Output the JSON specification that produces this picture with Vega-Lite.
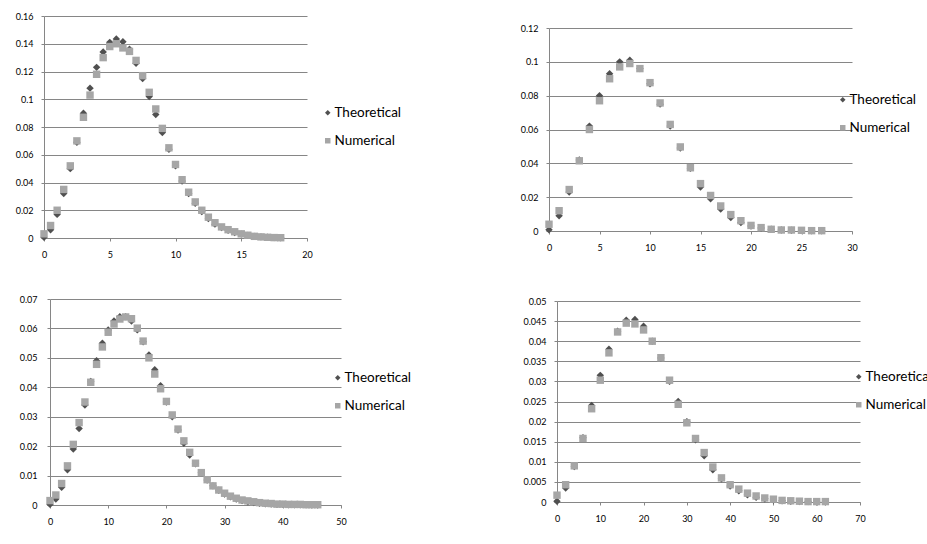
{
  "$schema": "https://vega.github.io/schema/vega-lite/v6.json",
  "background": "white",
  "padding": {"left": 15, "top": 12, "right": 0, "bottom": 0},
  "datasets": {
    "p1": [
      {"x":0,"Theoretical":0.0005,"Numerical":0.003},{"x":0.5,"Theoretical":0.006,"Numerical":0.009},{"x":1,"Theoretical":0.017,"Numerical":0.020},{"x":1.5,"Theoretical":0.032,"Numerical":0.035},{"x":2,"Theoretical":0.050,"Numerical":0.052},{"x":2.5,"Theoretical":0.069,"Numerical":0.070},{"x":3,"Theoretical":0.090,"Numerical":0.087},{"x":3.5,"Theoretical":0.108,"Numerical":0.103},{"x":4,"Theoretical":0.123,"Numerical":0.118},{"x":4.5,"Theoretical":0.134,"Numerical":0.130},{"x":5,"Theoretical":0.141,"Numerical":0.138},{"x":5.5,"Theoretical":0.1435,"Numerical":0.140},{"x":6,"Theoretical":0.1415,"Numerical":0.137},{"x":6.5,"Theoretical":0.136,"Numerical":0.1345},{"x":7,"Theoretical":0.126,"Numerical":0.128},{"x":7.5,"Theoretical":0.115,"Numerical":0.117},{"x":8,"Theoretical":0.102,"Numerical":0.105},{"x":8.5,"Theoretical":0.089,"Numerical":0.093},{"x":9,"Theoretical":0.076,"Numerical":0.079},{"x":9.5,"Theoretical":0.064,"Numerical":0.065},{"x":10,"Theoretical":0.052,"Numerical":0.053},{"x":10.5,"Theoretical":0.041,"Numerical":0.042},{"x":11,"Theoretical":0.032,"Numerical":0.033},{"x":11.5,"Theoretical":0.025,"Numerical":0.026},{"x":12,"Theoretical":0.019,"Numerical":0.020},{"x":12.5,"Theoretical":0.014,"Numerical":0.015},{"x":13,"Theoretical":0.010,"Numerical":0.011},{"x":13.5,"Theoretical":0.0075,"Numerical":0.008},{"x":14,"Theoretical":0.0055,"Numerical":0.006},{"x":14.5,"Theoretical":0.004,"Numerical":0.0045},{"x":15,"Theoretical":0.0028,"Numerical":0.003},{"x":15.5,"Theoretical":0.0019,"Numerical":0.002},{"x":16,"Theoretical":0.0012,"Numerical":0.0012},{"x":16.5,"Theoretical":0.0008,"Numerical":0.0008},{"x":17,"Theoretical":0.0005,"Numerical":0.0005},{"x":17.5,"Theoretical":0.0003,"Numerical":0.0003},{"x":18,"Theoretical":0.0002,"Numerical":0.0002}
    ],
    "p2": [
      {"x":0,"Theoretical":0.0007,"Numerical":0.004},{"x":1,"Theoretical":0.009,"Numerical":0.012},{"x":2,"Theoretical":0.023,"Numerical":0.0245},{"x":3,"Theoretical":0.042,"Numerical":0.0415},{"x":4,"Theoretical":0.062,"Numerical":0.060},{"x":5,"Theoretical":0.080,"Numerical":0.077},{"x":6,"Theoretical":0.093,"Numerical":0.090},{"x":7,"Theoretical":0.100,"Numerical":0.097},{"x":8,"Theoretical":0.101,"Numerical":0.099},{"x":9,"Theoretical":0.096,"Numerical":0.096},{"x":10,"Theoretical":0.087,"Numerical":0.0877},{"x":11,"Theoretical":0.075,"Numerical":0.0757},{"x":12,"Theoretical":0.062,"Numerical":0.063},{"x":13,"Theoretical":0.049,"Numerical":0.0497},{"x":14,"Theoretical":0.037,"Numerical":0.0374},{"x":15,"Theoretical":0.026,"Numerical":0.028},{"x":16,"Theoretical":0.019,"Numerical":0.021},{"x":17,"Theoretical":0.013,"Numerical":0.0148},{"x":18,"Theoretical":0.008,"Numerical":0.0097},{"x":19,"Theoretical":0.005,"Numerical":0.0061},{"x":20,"Theoretical":0.003,"Numerical":0.0033},{"x":21,"Theoretical":0.0018,"Numerical":0.002},{"x":22,"Theoretical":0.001,"Numerical":0.001},{"x":23,"Theoretical":0.0006,"Numerical":0.0006},{"x":24,"Theoretical":0.0004,"Numerical":0.0006},{"x":25,"Theoretical":0.0002,"Numerical":0.0004},{"x":26,"Theoretical":0.0001,"Numerical":0.0002},{"x":27,"Theoretical":0.0001,"Numerical":0.0002}
    ],
    "p3": [
      {"x":0,"Theoretical":0.0002,"Numerical":0.0015},{"x":1,"Theoretical":0.002,"Numerical":0.0034},{"x":2,"Theoretical":0.006,"Numerical":0.0073},{"x":3,"Theoretical":0.012,"Numerical":0.0133},{"x":4,"Theoretical":0.019,"Numerical":0.0206},{"x":5,"Theoretical":0.026,"Numerical":0.028},{"x":6,"Theoretical":0.034,"Numerical":0.035},{"x":7,"Theoretical":0.042,"Numerical":0.0417},{"x":8,"Theoretical":0.049,"Numerical":0.0478},{"x":9,"Theoretical":0.055,"Numerical":0.0537},{"x":10,"Theoretical":0.0595,"Numerical":0.0587},{"x":11,"Theoretical":0.0625,"Numerical":0.0615},{"x":12,"Theoretical":0.064,"Numerical":0.0632},{"x":13,"Theoretical":0.064,"Numerical":0.0639},{"x":14,"Theoretical":0.0625,"Numerical":0.0633},{"x":15,"Theoretical":0.0595,"Numerical":0.0601},{"x":16,"Theoretical":0.0555,"Numerical":0.0557},{"x":17,"Theoretical":0.051,"Numerical":0.050},{"x":18,"Theoretical":0.046,"Numerical":0.0445},{"x":19,"Theoretical":0.0405,"Numerical":0.0395},{"x":20,"Theoretical":0.035,"Numerical":0.0352},{"x":21,"Theoretical":0.030,"Numerical":0.0306},{"x":22,"Theoretical":0.0255,"Numerical":0.0258},{"x":23,"Theoretical":0.021,"Numerical":0.0218},{"x":24,"Theoretical":0.017,"Numerical":0.0179},{"x":25,"Theoretical":0.014,"Numerical":0.0142},{"x":26,"Theoretical":0.011,"Numerical":0.011},{"x":27,"Theoretical":0.0085,"Numerical":0.0086},{"x":28,"Theoretical":0.0065,"Numerical":0.0065},{"x":29,"Theoretical":0.005,"Numerical":0.0051},{"x":30,"Theoretical":0.0037,"Numerical":0.004},{"x":31,"Theoretical":0.0028,"Numerical":0.003},{"x":32,"Theoretical":0.002,"Numerical":0.0023},{"x":33,"Theoretical":0.0015,"Numerical":0.0017},{"x":34,"Theoretical":0.0011,"Numerical":0.0014},{"x":35,"Theoretical":0.0008,"Numerical":0.0011},{"x":36,"Theoretical":0.0006,"Numerical":0.0008},{"x":37,"Theoretical":0.0004,"Numerical":0.0006},{"x":38,"Theoretical":0.0003,"Numerical":0.0005},{"x":39,"Theoretical":0.0002,"Numerical":0.0003},{"x":40,"Theoretical":0.0002,"Numerical":0.0003},{"x":41,"Theoretical":0.0001,"Numerical":0.0002},{"x":42,"Theoretical":0.0001,"Numerical":0.0002},{"x":43,"Theoretical":0.0001,"Numerical":0.0002},{"x":44,"Theoretical":0.0001,"Numerical":0.0001},{"x":45,"Theoretical":0,"Numerical":0.0001},{"x":46,"Theoretical":0,"Numerical":0.0001}
    ],
    "p4": [
      {"x":0,"Theoretical":0.0002,"Numerical":0.0017},{"x":2,"Theoretical":0.0035,"Numerical":0.0043},{"x":4,"Theoretical":0.0088,"Numerical":0.009},{"x":6,"Theoretical":0.016,"Numerical":0.0158},{"x":8,"Theoretical":0.024,"Numerical":0.0232},{"x":10,"Theoretical":0.0315,"Numerical":0.0303},{"x":12,"Theoretical":0.038,"Numerical":0.0371},{"x":14,"Theoretical":0.0425,"Numerical":0.0423},{"x":16,"Theoretical":0.0452,"Numerical":0.0445},{"x":18,"Theoretical":0.0454,"Numerical":0.0443},{"x":20,"Theoretical":0.0437,"Numerical":0.0428},{"x":22,"Theoretical":0.040,"Numerical":0.040},{"x":24,"Theoretical":0.0358,"Numerical":0.0359},{"x":26,"Theoretical":0.030,"Numerical":0.0303},{"x":28,"Theoretical":0.025,"Numerical":0.0243},{"x":30,"Theoretical":0.020,"Numerical":0.0197},{"x":32,"Theoretical":0.0155,"Numerical":0.0158},{"x":34,"Theoretical":0.0115,"Numerical":0.0123},{"x":36,"Theoretical":0.008,"Numerical":0.0087},{"x":38,"Theoretical":0.0058,"Numerical":0.006},{"x":40,"Theoretical":0.004,"Numerical":0.0043},{"x":42,"Theoretical":0.0028,"Numerical":0.0032},{"x":44,"Theoretical":0.0018,"Numerical":0.0022},{"x":46,"Theoretical":0.0012,"Numerical":0.0015},{"x":48,"Theoretical":0.0008,"Numerical":0.001},{"x":50,"Theoretical":0.0005,"Numerical":0.0007},{"x":52,"Theoretical":0.0003,"Numerical":0.0004},{"x":54,"Theoretical":0.0002,"Numerical":0.0003},{"x":56,"Theoretical":0.0001,"Numerical":0.0002},{"x":58,"Theoretical":0.0001,"Numerical":0.0001},{"x":60,"Theoretical":0,"Numerical":0.0001},{"x":62,"Theoretical":0,"Numerical":0.0001}
    ]
  },
  "vconcat": [
    {
      "hconcat": [
        {
          "width": 263, "height": 222,
          "data": {"name": "p1"},
          "transform": [{"fold": ["Theoretical", "Numerical"], "as": ["series", "value"]}],
          "mark": {"type": "point", "filled": true, "opacity": 1, "size": 55},
          "encoding": {
            "x": {"field": "x", "type": "quantitative", "title": null, "scale": {"domain": [0, 20], "nice": false}, "axis": {"values": [0, 5, 10, 15, 20]}},
            "y": {"field": "value", "type": "quantitative", "title": null, "scale": {"domain": [0, 0.16], "nice": false}, "axis": {"values": [0, 0.02, 0.04, 0.06, 0.08, 0.1, 0.12, 0.14, 0.16]}},
            "color": {"field": "series", "type": "nominal", "scale": {"domain": ["Theoretical", "Numerical"], "range": ["#505050", "#a6a6a6"]}, "legend": {"title": null, "legendX": 277, "legendY": 90}},
            "shape": {"field": "series", "type": "nominal", "scale": {"domain": ["Theoretical", "Numerical"], "range": ["diamond", "square"]}, "legend": {"title": null, "legendX": 277, "legendY": 90}},
            "order": {"field": "series", "sort": "descending"}
          }
        },
        {
          "width": 303, "height": 215,
          "data": {"name": "p2"},
          "transform": [{"fold": ["Theoretical", "Numerical"], "as": ["series", "value"]}],
          "mark": {"type": "point", "filled": true, "opacity": 1, "size": 55},
          "encoding": {
            "x": {"field": "x", "type": "quantitative", "title": null, "scale": {"domain": [0, 30], "nice": false}, "axis": {"values": [0, 5, 10, 15, 20, 25, 30]}},
            "y": {"field": "value", "type": "quantitative", "title": null, "scale": {"domain": [0, 0.12], "nice": false, "range": [215, 12]}, "axis": {"values": [0, 0.02, 0.04, 0.06, 0.08, 0.1, 0.12]}},
            "color": {"field": "series", "type": "nominal", "scale": {"domain": ["Theoretical", "Numerical"], "range": ["#505050", "#a6a6a6"]}, "legend": {"title": null, "legendX": 287, "legendY": 77}},
            "shape": {"field": "series", "type": "nominal", "scale": {"domain": ["Theoretical", "Numerical"], "range": ["diamond", "square"]}, "legend": {"title": null, "legendX": 287, "legendY": 77}},
            "order": {"field": "series", "sort": "descending"}
          }
        }
      ],
      "spacing": 118,
      "resolve": {"scale": {"color": "independent", "shape": "independent"}, "legend": {"color": "independent", "shape": "independent"}}
    },
    {
      "hconcat": [
        {
          "width": 297, "height": 206,
          "data": {"name": "p3"},
          "transform": [{"fold": ["Theoretical", "Numerical"], "as": ["series", "value"]}],
          "mark": {"type": "point", "filled": true, "opacity": 1, "size": 55},
          "encoding": {
            "x": {"field": "x", "type": "quantitative", "title": null, "scale": {"domain": [0, 50], "nice": false, "range": [6, 297]}, "axis": {"values": [0, 10, 20, 30, 40, 50]}},
            "y": {"field": "value", "type": "quantitative", "title": null, "scale": {"domain": [0, 0.07], "nice": false}, "axis": {"values": [0, 0.01, 0.02, 0.03, 0.04, 0.05, 0.06, 0.07], "labelPadding": 10, "offset": -6}},
            "color": {"field": "series", "type": "nominal", "scale": {"domain": ["Theoretical", "Numerical"], "range": ["#505050", "#a6a6a6"]}, "legend": {"title": null, "legendX": 287, "legendY": 72}},
            "shape": {"field": "series", "type": "nominal", "scale": {"domain": ["Theoretical", "Numerical"], "range": ["diamond", "square"]}, "legend": {"title": null, "legendX": 287, "legendY": 72}},
            "order": {"field": "series", "sort": "descending"}
          }
        },
        {
          "width": 303, "height": 203,
          "data": {"name": "p4"},
          "transform": [{"fold": ["Theoretical", "Numerical"], "as": ["series", "value"]}],
          "mark": {"type": "point", "filled": true, "opacity": 1, "size": 55},
          "encoding": {
            "x": {"field": "x", "type": "quantitative", "title": null, "scale": {"domain": [0, 70], "nice": false}, "axis": {"values": [0, 10, 20, 30, 40, 50, 60, 70]}},
            "y": {"field": "value", "type": "quantitative", "title": null, "scale": {"domain": [0, 0.05], "nice": false, "range": [203, 2]}, "axis": {"values": [0, 0.005, 0.01, 0.015, 0.02, 0.025, 0.03, 0.035, 0.04, 0.045, 0.05]}},
            "color": {"field": "series", "type": "nominal", "scale": {"domain": ["Theoretical", "Numerical"], "range": ["#505050", "#a6a6a6"]}, "legend": {"title": null, "legendX": 295, "legendY": 71}},
            "shape": {"field": "series", "type": "nominal", "scale": {"domain": ["Theoretical", "Numerical"], "range": ["diamond", "square"]}, "legend": {"title": null, "legendX": 295, "legendY": 71}},
            "order": {"field": "series", "sort": "descending"}
          }
        }
      ],
      "spacing": 110,
      "resolve": {"scale": {"color": "independent", "shape": "independent"}, "legend": {"color": "independent", "shape": "independent"}}
    }
  ],
  "spacing": 36,
  "resolve": {"scale": {"color": "independent", "shape": "independent"}, "legend": {"color": "independent", "shape": "independent"}},
  "config": {
    "font": "Lato",
    "view": {"stroke": null},
    "axis": {
      "labelFont": "Lato", "labelFontSize": 9, "labelColor": "#000000",
      "domainColor": "#868686", "tickColor": "#868686", "tickSize": 3,
      "gridColor": "#868686", "gridOpacity": 1, "labelFlush": false, "labelOverlap": false,
      "labelExpr": "'' + datum.value"
    },
    "axisX": {"grid": false, "labelPadding": 9},
    "axisY": {"grid": true, "labelPadding": 8},
    "legend": {
      "orient": "none", "labelFont": "Lato", "labelFontSize": 13.5, "labelColor": "#000000",
      "symbolSize": 30, "rowPadding": 13, "padding": 0, "labelOffset": 0, "symbolStrokeWidth": 0
    }
  }
}
